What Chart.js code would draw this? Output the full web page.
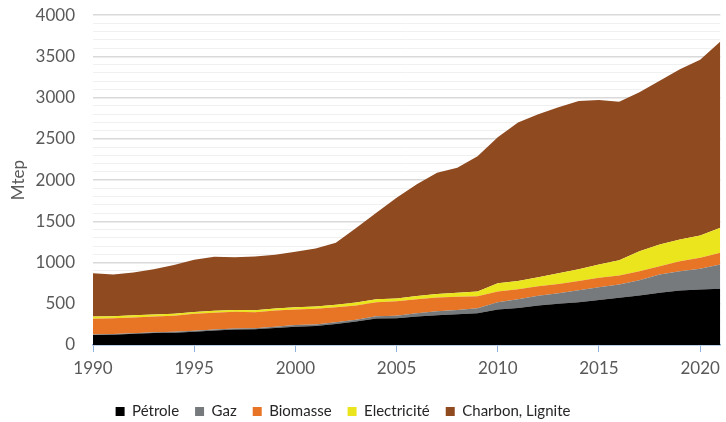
<!DOCTYPE html>
<html>
<head>
<meta charset="utf-8">
<script src="https://cdn.jsdelivr.net/npm/chart.js@4"></script>
<style>
  body { margin: 0; background: #fff; }
  #wrap { width: 726px; height: 422px; }
</style>
</head>
<body>
<div id="wrap"><canvas id="myChart"></canvas></div>
<script>
var years = [1990, 1991, 1992, 1993, 1994, 1995, 1996, 1997, 1998, 1999,
             2000, 2001, 2002, 2003, 2004, 2005, 2006, 2007, 2008, 2009,
             2010, 2011, 2012, 2013, 2014, 2015, 2016, 2017, 2018, 2019,
             2020, 2021];

var petrole = [120, 125, 135, 145, 150, 160, 175, 188, 190, 205,
               222, 230, 255, 285, 320, 325, 345, 360, 372, 385,
               430, 450, 478, 500, 520, 545, 572, 600, 633, 661,
               673, 681];
var gaz = [8, 8, 8, 10, 10, 12, 12, 12, 13, 15,
           20, 20, 20, 20, 30, 30, 40, 48, 53, 60,
           90, 105, 120, 128, 145, 155, 161, 186, 222, 234,
           251, 295];
var biomasse = [190, 192, 192, 190, 195, 206, 205, 204, 195, 198,
                190, 190, 183, 175, 170, 175, 170, 167, 160, 145,
                130, 120, 114, 112, 110, 115, 109, 109, 100, 121,
                133, 142];
var electricite = [27, 25, 25, 25, 25, 22, 22, 21, 22, 25,
                   26, 27, 30, 35, 35, 35, 40, 45, 50, 60,
                   98, 100, 110, 130, 145, 161, 186, 242, 263, 263,
                   270, 303];
var charbon = [525, 505, 518, 550, 590, 635, 656, 640, 652, 652,
               672, 703, 752, 905, 1050, 1220, 1355, 1470, 1515, 1640,
               1772, 1925, 1978, 2015, 2040, 1994, 1922, 1928, 1987, 2066,
               2133, 2259];

function pts(vals) {
    return years.map(function (yr, i) { return { x: yr, y: vals[i] }; });
}

function serie(label, vals, color, fill) {
    return {
        label: label,
        data: pts(vals),
        backgroundColor: color,
        borderColor: color,
        borderWidth: 0,
        pointRadius: 0,
        pointHoverRadius: 0,
        fill: fill,
        tension: 0
    };
}

// legend: keep Chart.js spacing between items but trim its height and move it a bit
var legendTweak = {
    id: 'legendTweak',
    afterInit: function (chart) {
        var lg = chart.legend;
        var fit = lg.fit;
        lg.fit = function () {
            fit.call(this);
            this.height = 41;
        };
    },
    afterLayout: function (chart) {
        chart.legend.left -= 36;
        chart.legend.top += 7;
        chart.legend.bottom += 7;
    }
};

Chart.defaults.font.family = 'Lato, "Noto Sans", sans-serif';
Chart.defaults.color = '#595959';

const ctx = document.getElementById('myChart');
new Chart(ctx, {
    type: 'line',
    data: {
        datasets: [
            serie('Pétrole', petrole, '#000000', 'origin'),
            serie('Gaz', gaz, '#767a7c', '-1'),
            serie('Biomasse', biomasse, '#e87526', '-1'),
            serie('Electricité', electricite, '#ebe51e', '-1'),
            serie('Charbon, Lignite', charbon, '#904a20', '-1')
        ]
    },
    plugins: [legendTweak],
    options: {
        responsive: true,
        maintainAspectRatio: false,
        animation: false,
        layout: { padding: { top: 0, right: 4, left: 0, bottom: 0 } },
        plugins: {
            tooltip: { enabled: false },
            legend: {
                position: 'bottom',
                labels: {
                    boxWidth: 9,
                    boxHeight: 9,
                    padding: 16,
                    font: { size: 15 },
                    color: '#262626'
                }
            }
        },
        scales: {
            x: {
                type: 'linear',
                min: 1990,
                max: 2021,
                afterFit: function (s) { s.height = 36; },
                ticks: {
                    stepSize: 5,
                    includeBounds: false,
                    font: { size: 17 },
                    padding: 6,
                    color: '#595959',
                    callback: function (v) { return String(v); }
                },
                grid: {
                    drawOnChartArea: false,
                    drawTicks: true,
                    tickLength: 7,
                    color: '#8eb1de'
                },
                border: { color: '#8eb1de', width: 1.5 }
            },
            y: {
                stacked: true,
                min: 0,
                max: 4000,
                afterFit: function (s) { s.width = 93; },
                title: {
                    display: true,
                    text: 'Mtep',
                    font: { size: 17 },
                    color: '#595959',
                    padding: { top: 8, bottom: 4 }
                },
                ticks: {
                    stepSize: 100,
                    autoSkip: false,
                    padding: 5,
                    font: { size: 17 },
                    color: '#595959',
                    callback: function (v) { return v % 500 === 0 ? v : ''; }
                },
                grid: {
                    drawTicks: true,
                    tickLength: 13,
                    tickColor: 'rgba(0,0,0,0)',
                    color: function (c) {
                        return c.tick && c.tick.value % 500 === 0 ? '#d9d9d9' : '#f0f0f0';
                    },
                    lineWidth: function (c) {
                        return c.tick && c.tick.value % 500 === 0 ? 1.5 : 1;
                    }
                },
                border: { display: false }
            }
        }
    }
});
</script>
</body>
</html>
